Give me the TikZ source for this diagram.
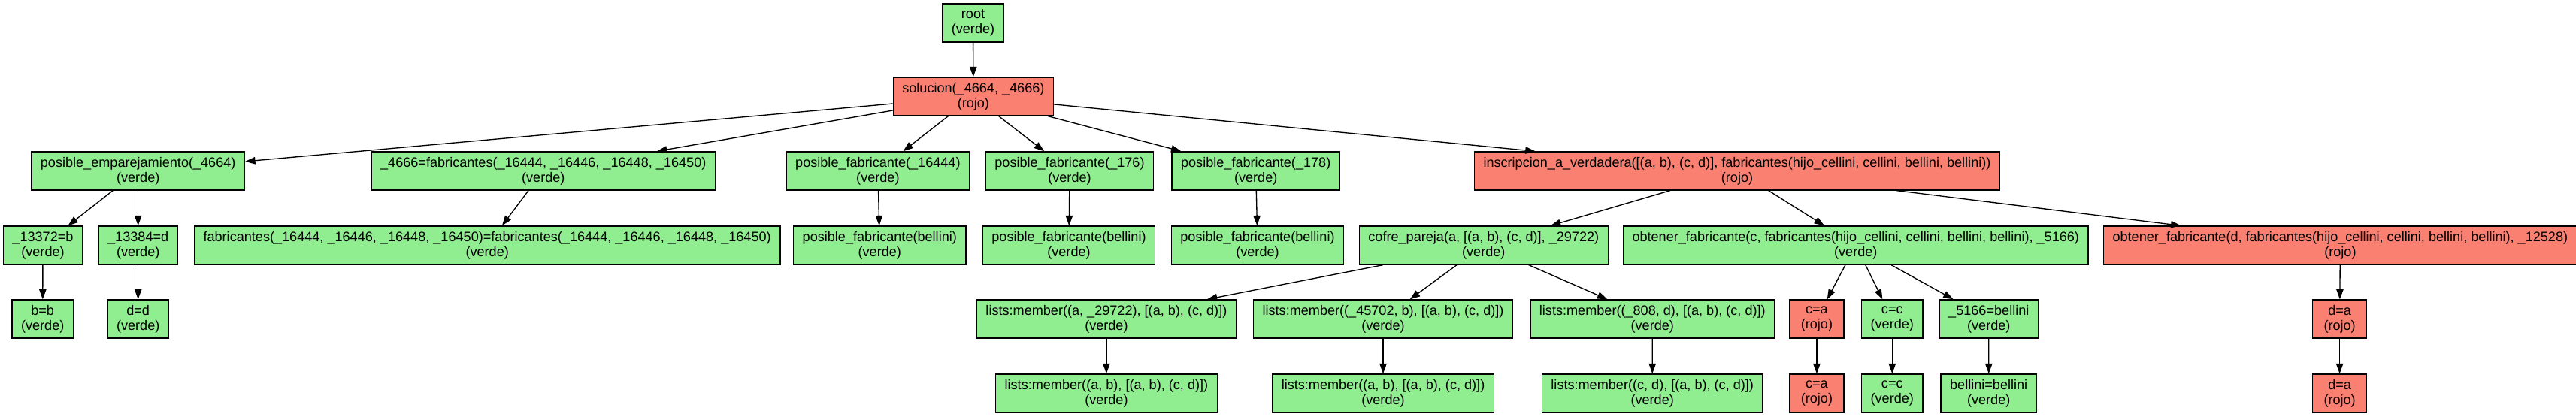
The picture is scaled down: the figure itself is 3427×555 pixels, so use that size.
\documentclass[tikz,border=0pt]{standalone}
\usepackage{fontspec}
\setmainfont{Liberation Sans}
\usetikzlibrary{arrows.meta}
\definecolor{verdeclaro}{HTML}{90EE90}
\definecolor{salmon}{HTML}{FA8072}

\begin{document}
\begin{tikzpicture}[x=0.5pt, y=-0.5pt, >={Triangle[length=6.7pt, width=4.7pt]},
    caja/.style={draw, rectangle, line width=0.67pt, minimum width=36pt, minimum height=25.5pt, inner xsep=6pt, inner ysep=0pt, align=center, font=\fontsize{9.05}{9.85}\selectfont},
    verde/.style={caja, fill=verdeclaro},
    rojo/.style={caja, fill=salmon}]
    \useasboundingbox (0,0) rectangle (3427,555);

    % Nodes
    \node[verde] (root) at (1294.5,30.5) {root\\(verde)};
    \node[rojo] (sol) at (1294.9,128.5) {solucion(\_4664, \_4666)\\(rojo)};

    \node[verde] (pe) at (183.7,227.5) {posible\_emparejamiento(\_4664)\\(verde)};
    \node[verde] (eqfab) at (722.8,227.5) {\_4666=fabricantes(\_16444, \_16446, \_16448, \_16450)\\(verde)};
    \node[verde] (pf1) at (1167.9,227.5) {posible\_fabricante(\_16444)\\(verde)};
    \node[verde] (pf2) at (1423,227.5) {posible\_fabricante(\_176)\\(verde)};
    \node[verde] (pf3) at (1670.7,227.5) {posible\_fabricante(\_178)\\(verde)};
    \node[rojo] (insc) at (2311,227.5) {inscripcion\_a\_verdadera([(a, b), (c, d)], fabricantes(hijo\_cellini, cellini, bellini, bellini))\\(rojo)};

    \node[verde] (v13372) at (57,326.5) {\_13372=b\\(verde)};
    \node[verde] (v13384) at (183.7,326.5) {\_13384=d\\(verde)};
    \node[verde] (fabfab) at (648.2,326.5) {fabricantes(\_16444, \_16446, \_16448, \_16450)=fabricantes(\_16444, \_16446, \_16448, \_16450)\\(verde)};
    \node[verde] (pfb1) at (1170.3,326.5) {posible\_fabricante(bellini)\\(verde)};
    \node[verde] (pfb2) at (1422,326.5) {posible\_fabricante(bellini)\\(verde)};
    \node[verde] (pfb3) at (1673,326.5) {posible\_fabricante(bellini)\\(verde)};
    \node[verde] (cofre) at (1973.8,326.5) {cofre\_pareja(a, [(a, b), (c, d)], \_29722)\\(verde)};
    \node[verde] (obtc) at (2468.8,326.5) {obtener\_fabricante(c, fabricantes(hijo\_cellini, cellini, bellini, bellini), \_5166)\\(verde)};
    \node[rojo] (obtd) at (3113.4,326.5) {obtener\_fabricante(d, fabricantes(hijo\_cellini, cellini, bellini, bellini), \_12528)\\(rojo)};

    \node[verde] (bb) at (56.7,424.5) {b=b\\(verde)};
    \node[verde] (dd) at (183.7,424.5) {d=d\\(verde)};
    \node[verde] (lm1) at (1471.9,424.5) {lists:member((a, \_29722), [(a, b), (c, d)])\\(verde)};
    \node[verde] (lm2) at (1840,424.5) {lists:member((\_45702, b), [(a, b), (c, d)])\\(verde)};
    \node[verde] (lm3) at (2198.3,424.5) {lists:member((\_808, d), [(a, b), (c, d)])\\(verde)};
    \node[rojo] (ca) at (2416.9,424.5) {c=a\\(rojo)};
    \node[verde] (cc) at (2517.3,424.5) {c=c\\(verde)};
    \node[verde] (v5166) at (2645.8,424.5) {\_5166=bellini\\(verde)};
    \node[rojo] (da) at (3112.6,424.5) {d=a\\(rojo)};

    \node[verde] (lm1b) at (1471.9,523.5) {lists:member((a, b), [(a, b), (c, d)])\\(verde)};
    \node[verde] (lm2b) at (1840,523.5) {lists:member((a, b), [(a, b), (c, d)])\\(verde)};
    \node[verde] (lm3b) at (2198.2,523.5) {lists:member((c, d), [(a, b), (c, d)])\\(verde)};
    \node[rojo] (cab) at (2416.9,523.5) {c=a\\(rojo)};
    \node[verde] (ccb) at (2517.3,523.5) {c=c\\(verde)};
    \node[verde] (bel) at (2645.7,523.5) {bellini=bellini\\(verde)};
    \node[rojo] (dab) at (3112.6,523.5) {d=a\\(rojo)};

    % Arrows
    \draw[->, line width=0.67pt] (root) -- (sol);
    \draw[->, line width=0.67pt] (sol) -- (pe);
    \draw[->, line width=0.67pt] (sol) -- (eqfab);
    \draw[->, line width=0.67pt] (sol) -- (pf1);
    \draw[->, line width=0.67pt] (sol) -- (pf2);
    \draw[->, line width=0.67pt] (sol) -- (pf3);
    \draw[->, line width=0.67pt] (sol) -- (insc);
    \draw[->, line width=0.67pt] (pe) -- (v13372);
    \draw[->, line width=0.67pt] (pe) -- (v13384);
    \draw[->, line width=0.67pt] (eqfab) -- (fabfab);
    \draw[->, line width=0.67pt] (pf1) -- (pfb1);
    \draw[->, line width=0.67pt] (pf2) -- (pfb2);
    \draw[->, line width=0.67pt] (pf3) -- (pfb3);
    \draw[->, line width=0.67pt] (insc) -- (cofre);
    \draw[->, line width=0.67pt] (insc) -- (obtc);
    \draw[->, line width=0.67pt] (insc) -- (obtd);
    \draw[->, line width=0.67pt] (v13372) -- (bb);
    \draw[->, line width=0.67pt] (v13384) -- (dd);
    \draw[->, line width=0.67pt] (cofre) -- (lm1);
    \draw[->, line width=0.67pt] (cofre) -- (lm2);
    \draw[->, line width=0.67pt] (cofre) -- (lm3);
    \draw[->, line width=0.67pt] (obtc) -- (ca);
    \draw[->, line width=0.67pt] (obtc) -- (cc);
    \draw[->, line width=0.67pt] (obtc) -- (v5166);
    \draw[->, line width=0.67pt] (obtd) -- (da);
    \draw[->, line width=0.67pt] (lm1) -- (lm1b);
    \draw[->, line width=0.67pt] (lm2) -- (lm2b);
    \draw[->, line width=0.67pt] (lm3) -- (lm3b);
    \draw[->, line width=0.67pt] (ca) -- (cab);
    \draw[->, line width=0.67pt] (cc) -- (ccb);
    \draw[->, line width=0.67pt] (v5166) -- (bel);
    \draw[->, line width=0.67pt] (da) -- (dab);
\end{tikzpicture}
\end{document}
